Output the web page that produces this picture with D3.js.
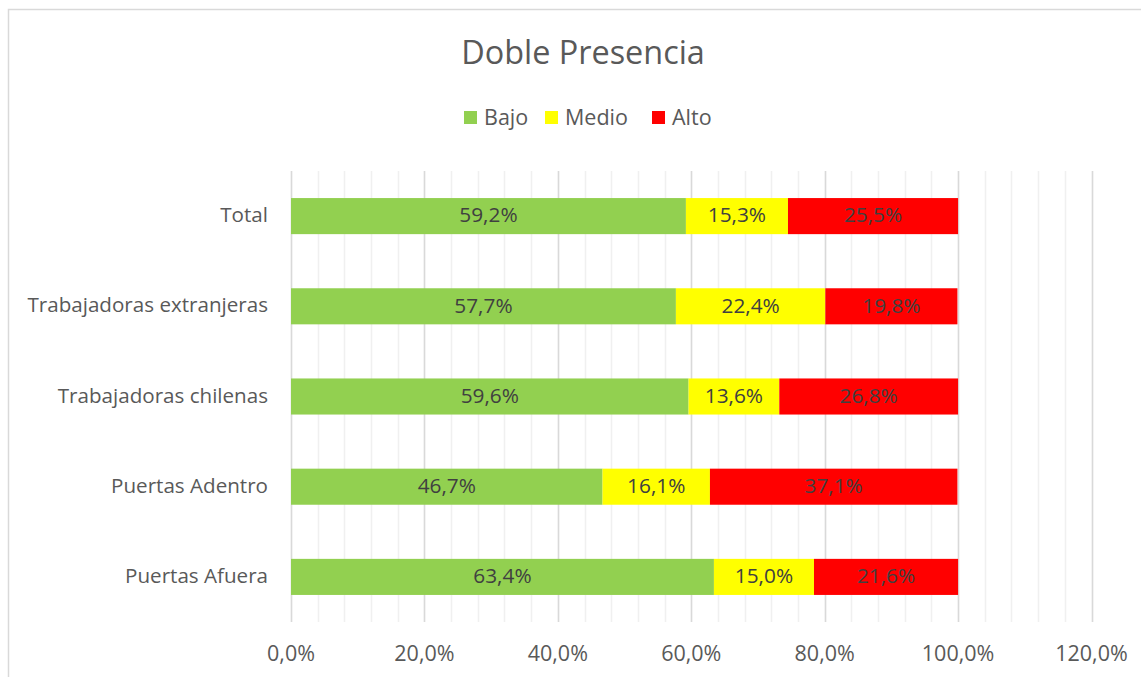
<!DOCTYPE html>
<html>
<head>
<meta charset="utf-8">
<script src="https://cdn.jsdelivr.net/npm/d3@7"></script>
<style>
  body { margin: 0; background: #fff; }
  text { font-family: "Open Sans", sans-serif; }
</style>
</head>
<body>
<div id="chart"></div>
<script>
(function() {
  'use strict';

  var categories = ['Total', 'Trabajadoras extranjeras', 'Trabajadoras chilenas', 'Puertas Adentro', 'Puertas Afuera'];
  var seriesNames = ['Bajo', 'Medio', 'Alto'];
  var seriesColors = ['#92d050', '#ffff00', '#ff0000'];
  var bajo = [0.592, 0.577, 0.596, 0.467, 0.634];
  var medio = [0.153, 0.224, 0.136, 0.161, 0.150];
  var alto = [0.255, 0.198, 0.268, 0.371, 0.216];
  var xTicks = [0, 0.2, 0.4, 0.6, 0.8, 1.0, 1.2];

  var width = 1141, height = 677;
  var locale = d3.formatLocale({decimal: ',', thousands: '.', grouping: [3], currency: ['', '']});
  var pct = locale.format('.1%');

  var svg = d3.select('#chart').append('svg').attr('width', width).attr('height', height);

  // chart frame
  svg.append('rect').attr('x', 8.5).attr('y', 9.5).attr('width', 1160).attr('height', 700)
    .attr('fill', '#fff').attr('stroke', '#d9d9d9').attr('stroke-width', 1.5);

  var x = d3.scaleLinear().domain([0, 1.2]).range([291, 1091.5]);
  var y = d3.scaleBand().domain(categories).range([171, 622]).paddingInner(0.6).paddingOuter(0.3);

  // minor gridlines
  svg.append('g').selectAll('line').data(d3.range(0, 1.2001, 0.04)).enter().append('line')
    .attr('x1', function(d) { return Math.round(x(d)) + 0.5; })
    .attr('x2', function(d) { return Math.round(x(d)) + 0.5; })
    .attr('y1', 171).attr('y2', 622)
    .attr('stroke', '#f0f0f0').attr('stroke-width', 1.5);

  // major gridlines
  svg.append('g').selectAll('line').data(xTicks).enter().append('line')
    .attr('x1', function(d) { return Math.round(x(d)) + 0.5; })
    .attr('x2', function(d) { return Math.round(x(d)) + 0.5; })
    .attr('y1', 171).attr('y2', 622)
    .attr('stroke', '#d9d9d9').attr('stroke-width', 1.5);

  var rows = categories.map(function(c, i) {
    return {cat: c, Bajo: bajo[i], Medio: medio[i], Alto: alto[i]};
  });
  var stacked = d3.stack().keys(seriesNames)(rows);

  var layers = svg.append('g').selectAll('g').data(stacked).enter().append('g')
    .attr('fill', function(d, i) { return seriesColors[i]; });

  layers.selectAll('rect').data(function(d) { return d; }).enter().append('rect')
    .attr('x', function(d) { return x(d[0]); })
    .attr('width', function(d) { return x(d[1]) - x(d[0]); })
    .attr('y', function(d) { return y(d.data.cat); })
    .attr('height', y.bandwidth());

  layers.selectAll('text').data(function(d) { return d; }).enter().append('text')
    .attr('x', function(d) { return (x(d[0]) + x(d[1])) / 2; })
    .attr('y', function(d) { return y(d.data.cat) + y.bandwidth() / 2; })
    .attr('dy', '0.3em').attr('text-anchor', 'middle')
    .attr('fill', '#404040').style('font-size', '20.8px')
    .text(function(d) { return pct(d[1] - d[0]); });

  // category labels
  svg.append('g').selectAll('text').data(categories).enter().append('text')
    .attr('x', 268).attr('y', function(d) { return y(d) + y.bandwidth() / 2; })
    .attr('dy', '0.3em').attr('text-anchor', 'end')
    .attr('fill', '#595959').style('font-size', '20.6px')
    .text(function(d) { return d; });

  // x tick labels
  svg.append('g').selectAll('text').data(xTicks).enter().append('text')
    .attr('x', function(d) { return x(d); }).attr('y', 654)
    .attr('dy', '0.33em').attr('text-anchor', 'middle')
    .attr('fill', '#595959').style('font-size', '21.5px')
    .text(function(d) { return pct(d); });

  // title
  svg.append('text').attr('x', 583).attr('y', 53).attr('dy', '0.34em')
    .attr('text-anchor', 'middle').attr('fill', '#595959').style('font-size', '32.4px')
    .text('Doble Presencia');

  // legend
  var legendX = [464, 545, 652];
  var legend = svg.append('g').selectAll('g').data(seriesNames).enter().append('g')
    .attr('transform', function(d, i) { return 'translate(' + legendX[i] + ',111)'; });
  legend.append('rect').attr('width', 13).attr('height', 13)
    .attr('fill', function(d, i) { return seriesColors[i]; });
  legend.append('text').attr('x', 20).attr('y', 6.5).attr('dy', '0.33em')
    .attr('fill', '#595959').style('font-size', '21.5px')
    .text(function(d) { return d; });
})();
</script>
</body>
</html>
